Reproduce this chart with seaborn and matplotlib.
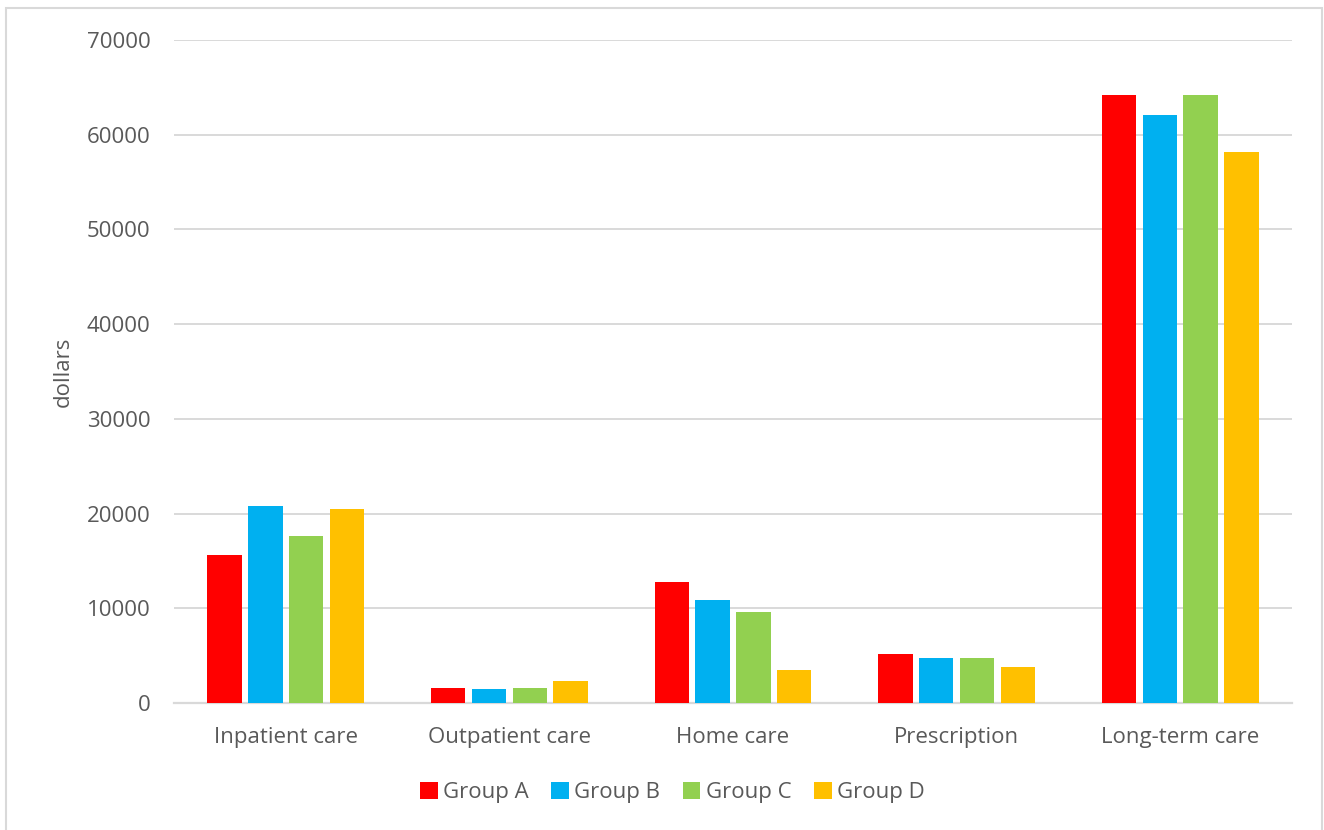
import matplotlib
matplotlib.use("Agg")
import matplotlib.pyplot as plt
from matplotlib.patches import Rectangle
import seaborn as sns
import pandas as pd

categories = ["Inpatient care", "Outpatient care", "Home care", "Prescription", "Long-term care"]
groups = ["Group A", "Group B", "Group C", "Group D"]
group_a = [15600, 1550, 12800, 5200, 64200]
group_b = [20800, 1500, 10850, 4750, 62050]
group_c = [17650, 1550, 9650, 4800, 64200]
group_d = [20450, 2350, 3500, 3750, 58200]
palette = ["#FF0000", "#00B0F0", "#92D050", "#FFC000"]
yticks = [0, 10000, 20000, 30000, 40000, 50000, 60000, 70000]

rows = []
for g, vals in zip(groups, [group_a, group_b, group_c, group_d]):
    for c, v in zip(categories, vals):
        rows.append({"category": c, "group": g, "dollars": v})
df = pd.DataFrame(rows)

sns.set_theme(style="white")
plt.rcParams["font.family"] = ["Open Sans", "DejaVu Sans"]
text_color = "#595959"
grid_color = "#D9D9D9"

fig = plt.figure(figsize=(13.24, 8.3), dpi=100)
ax = fig.add_axes([174 / 1324, 127 / 830, 1118 / 1324, 663 / 830])

sns.barplot(data=df, x="category", y="dollars", hue="group", order=categories,
            hue_order=groups, palette=palette, width=0.73, gap=0.16,
            linewidth=0, saturation=1, ax=ax, zorder=3)

ax.set_xlim(-0.5, len(categories) - 0.5)
ax.set_ylim(0, 70000)
ax.set_yticks(yticks)
ax.set_yticklabels([str(t) for t in yticks])
ax.yaxis.grid(True, color=grid_color, linewidth=1.4, zorder=0)
ax.set_axisbelow(True)
for side in ["left", "right", "top"]:
    ax.spines[side].set_visible(False)
ax.spines["bottom"].set_color(grid_color)
ax.spines["bottom"].set_linewidth(1.6)
ax.tick_params(axis="y", length=0, pad=17, labelsize=16, labelcolor=text_color)
ax.tick_params(axis="x", length=0, pad=17, labelsize=16, labelcolor=text_color)
ax.set_xlabel("")
ax.set_ylabel("dollars", fontsize=16, color=text_color, labelpad=9)

leg = ax.legend(loc="center", bbox_to_anchor=(0.4457, -0.135), ncol=4, frameon=False,
                fontsize=16, handlelength=0.8, handleheight=0.8, handletextpad=0.25,
                columnspacing=1.0, labelcolor=text_color)

# outer chart frame
fig.patches.append(Rectangle((6 / 1324, -0.05), 1316 / 1324, 1.05 - 8 / 830,
                             transform=fig.transFigure, fill=False,
                             edgecolor=grid_color, linewidth=1.5))

fig.savefig("out.png", dpi=100)
